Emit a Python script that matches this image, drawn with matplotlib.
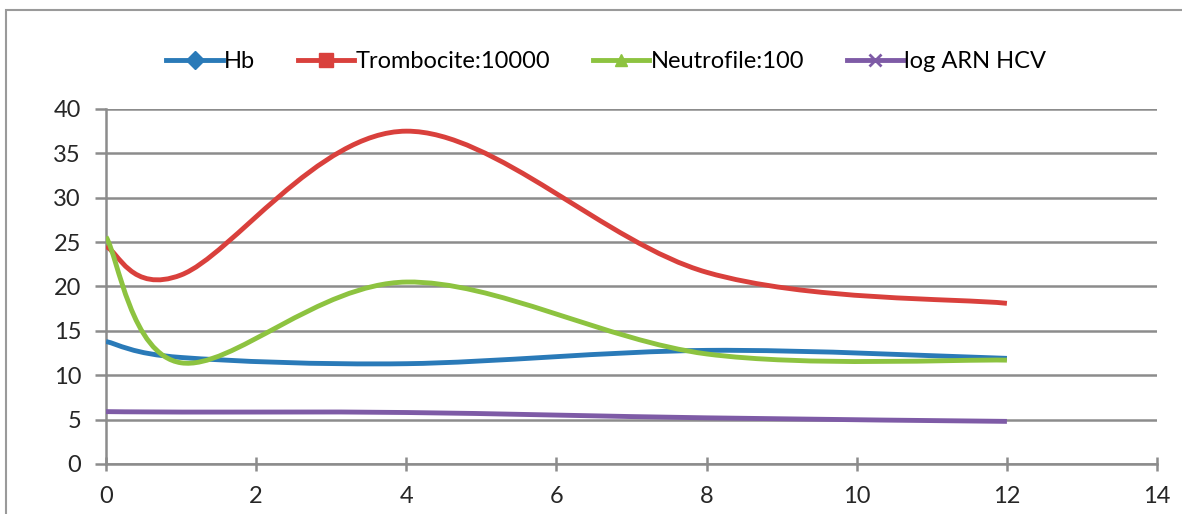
import matplotlib.pyplot as plt
from matplotlib.path import Path
from matplotlib.patches import PathPatch, Rectangle
from matplotlib.lines import Line2D

plt.rcParams['font.family'] = ['Lato', 'DejaVu Sans']

zile = [0, 1, 4, 8, 12]
hb = [13.8, 12.0, 11.3, 12.8, 11.9]
trombocite = [24.5, 21.3, 37.5, 21.6, 18.1]
neutrofile = [25.6, 11.4, 20.5, 12.4, 11.7]
log_arn = [5.9, 5.85, 5.8, 5.2, 4.8]

serii = [
    ('Hb', hb, '#2A7AB8', 'D'),
    ('Trombocite:10000', trombocite, '#D9403C', 's'),
    ('Neutrofile:100', neutrofile, '#8DC340', '^'),
    ('log ARN HCV', log_arn, '#7E5BA6', 'x'),
]


def smooth_path(xs, ys):
    # bezier smoothing like Excel's "smoothed line"
    pts = list(zip(xs, ys))
    verts = [pts[0]]
    codes = [Path.MOVETO]
    n = len(pts)
    for i in range(n - 1):
        p0 = pts[max(i - 1, 0)]
        p1 = pts[i]
        p2 = pts[i + 1]
        p3 = pts[min(i + 2, n - 1)]
        c1 = (p1[0] + (p2[0] - p0[0]) / 6, p1[1] + (p2[1] - p0[1]) / 6)
        c2 = (p2[0] - (p3[0] - p1[0]) / 6, p2[1] - (p3[1] - p1[1]) / 6)
        verts += [c1, c2, p2]
        codes += [Path.CURVE4] * 3
    return Path(verts, codes)


fig = plt.figure(figsize=(11.82, 5.14), dpi=100)
ax = fig.add_axes([0.0897, 0.0973, 0.8892, 0.6907])

# chart frame
fig.patches.append(Rectangle((6 / 1182, -0.05), 1.2, 1 - 10 / 514 + 0.05,
                             transform=fig.transFigure, fill=False,
                             edgecolor='#9a9a9a', linewidth=1.5))

grid_col = '#8c8c8c'
handles = []
for nume, vals, col, mk in serii:
    ax.add_patch(PathPatch(smooth_path(zile, vals), fill=False, edgecolor=col,
                           linewidth=3.5, capstyle='butt', zorder=3))
    handles.append(Line2D([], [], color=col, linewidth=3.5, marker=mk,
                          markersize=10 if mk == 's' else 9,
                          markeredgewidth=2 if mk == 'x' else 1,
                          label=nume))

ax.set_xlim(0, 14)
ax.set_ylim(0, 40)
ax.set_xticks(range(0, 15, 2))
ax.set_yticks(range(0, 41, 5))
ax.yaxis.grid(True, color=grid_col, linewidth=1.8)
ax.set_axisbelow(True)
for s in ['top', 'right']:
    ax.spines[s].set_visible(False)
for s in ['left', 'bottom']:
    ax.spines[s].set_color(grid_col)
    ax.spines[s].set_linewidth(1.8)
ax.tick_params(axis='y', direction='out', length=8, width=1.8, color=grid_col,
               labelsize=17, pad=10, labelcolor='#262626')
ax.tick_params(axis='x', direction='inout', length=10, width=1.8, color=grid_col,
               labelsize=17, pad=11, labelcolor='#262626')

fig.legend(handles=handles, loc='center', bbox_to_anchor=(0.513, 0.88),
           ncol=4, frameon=False, fontsize=17, handlelength=2.4,
           handletextpad=0.05, columnspacing=1.8)

fig.savefig('out.png', dpi=100)
